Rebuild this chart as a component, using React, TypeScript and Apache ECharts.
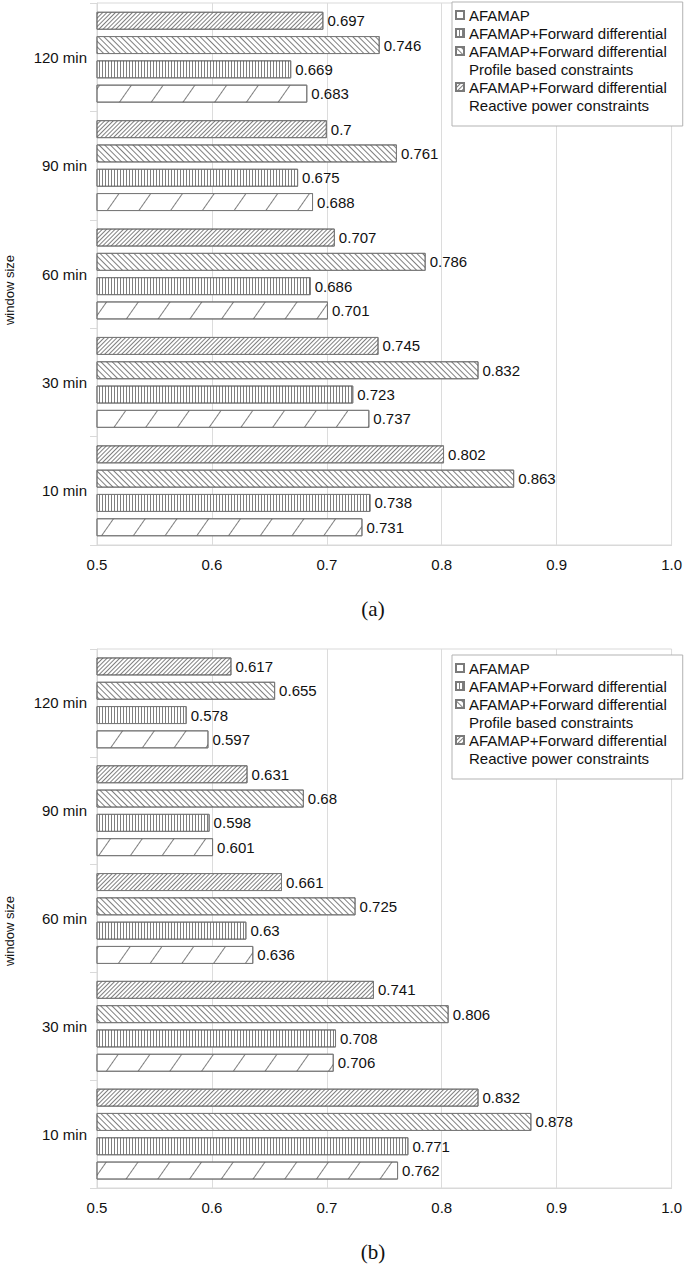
import React, { useEffect, useRef } from 'react';
import * as echarts from 'echarts';

const categories = ['10 min', '30 min', '60 min', '90 min', '120 min'];
const seriesNames = [
  'AFAMAP',
  'AFAMAP+Forward differential',
  'AFAMAP+Forward differential Profile based constraints',
  'AFAMAP+Forward differential Reactive power constraints',
];
const legendFirstLines = [
  'AFAMAP',
  'AFAMAP+Forward differential',
  'AFAMAP+Forward differential',
  'AFAMAP+Forward differential',
];
const legendSecondLines = ['', '', 'Profile based constraints', 'Reactive power constraints'];

// Chart (a)
const afamapA = [0.731, 0.737, 0.701, 0.688, 0.683];
const fwdA = [0.738, 0.723, 0.686, 0.675, 0.669];
const profileA = [0.863, 0.832, 0.786, 0.761, 0.746];
const reactiveA = [0.802, 0.745, 0.707, 0.7, 0.697];

// Chart (b)
const afamapB = [0.762, 0.706, 0.636, 0.601, 0.597];
const fwdB = [0.771, 0.708, 0.63, 0.598, 0.578];
const profileB = [0.878, 0.806, 0.725, 0.68, 0.655];
const reactiveB = [0.832, 0.741, 0.661, 0.631, 0.617];

const xMin = 0.5;
const xMax = 1.0;
const xInterval = 0.1;

const FONT = '"Liberation Sans", Arial, sans-serif';
const DC = 'rgba(0,0,0,0.5)';

const decals: any[] = [
  { symbol: 'rect', symbolSize: 1, color: DC, dashArrayX: [1, 0], dashArrayY: [1, 25], rotation: (-55 * Math.PI) / 180 },
  { symbol: 'rect', symbolSize: 1, color: DC, dashArrayX: [1, 2], dashArrayY: [1, 0], rotation: 0 },
  { symbol: 'rect', symbolSize: 1, color: DC, dashArrayX: [1, 0], dashArrayY: [1, 3], rotation: Math.PI / 4 },
  { symbol: 'rect', symbolSize: 1, color: DC, dashArrayX: [1, 0], dashArrayY: [1, 2], rotation: -Math.PI / 4 },
];

type ChartProps = {
  values: number[][];
  caption: string;
  gridTop: number;
  gridHeight: number;
  legendTop: number;
  captionY: number;
  nameY: number;
};

function BarChart({ values, caption, gridTop, gridHeight, legendTop, captionY, nameY }: ChartProps) {
  const ref = useRef<HTMLDivElement>(null);
  useEffect(() => {
    if (!ref.current) return;
    const chart = echarts.init(ref.current, null, { renderer: 'svg' });
    const barSeries = seriesNames.map((name, i) => ({
      name,
      type: 'bar',
      data: values[i],
      barWidth: 18,
      barGap: '35%',
      itemStyle: { color: '#ffffff', borderColor: '#7a7a7a', borderWidth: 1, decal: decals[i] },
      label: {
        show: true,
        position: 'right',
        distance: 4,
        fontSize: 15,
        fontFamily: FONT,
        color: '#111',
      },
    }));
    // ECharts stacks horizontal bars top-down in series order; reverse so AFAMAP sits at the bottom
    const orderedBars = barSeries.slice().reverse();
    const dummySeries = legendSecondLines
      .filter((s) => s)
      .map((name) => ({
        name,
        type: 'line',
        data: [],
        itemStyle: { color: 'rgba(0,0,0,0)' },
        lineStyle: { color: 'rgba(0,0,0,0)' },
      }));
    const legendData: any[] = [];
    seriesNames.forEach((name, i) => {
      legendData.push({ name });
      if (legendSecondLines[i]) {
        legendData.push({
          name: legendSecondLines[i],
          itemStyle: { color: 'rgba(0,0,0,0)', borderWidth: 0, borderColor: 'rgba(0,0,0,0)', decal: 'none' },
        });
      }
    });
    chart.setOption({
      animation: false,
      textStyle: { fontFamily: FONT },
      grid: {
        left: 97,
        right: 13,
        top: gridTop,
        height: gridHeight,
        show: true,
        borderColor: '#d9d9d9',
        borderWidth: 1,
      },
      legend: {
        data: legendData,
        orient: 'vertical',
        left: 452,
        top: legendTop,
        icon: 'rect',
        itemWidth: 8,
        itemHeight: 8,
        itemGap: 0,
        selectedMode: false,
        padding: [4, 16, 12, 3],
        borderColor: '#b3b3b3',
        borderWidth: 1,
        backgroundColor: '#fff',
        textStyle: { fontSize: 15, fontFamily: FONT, color: '#111', lineHeight: 18 },
        formatter: (name: string) => {
          const idx = seriesNames.indexOf(name);
          return idx >= 0 ? legendFirstLines[idx] : name;
        },
      },
      xAxis: {
        type: 'value',
        min: xMin,
        max: xMax,
        interval: xInterval,
        axisLine: { show: true, lineStyle: { color: '#d9d9d9' } },
        axisTick: { show: false },
        splitLine: { show: true, lineStyle: { color: '#dcdcdc' } },
        axisLabel: {
          fontSize: 15,
          fontFamily: FONT,
          color: '#111',
          margin: 12,
          formatter: (v: number) => v.toFixed(1),
        },
      },
      yAxis: {
        type: 'category',
        data: categories,
        axisLine: { show: true, lineStyle: { color: '#d9d9d9' } },
        axisTick: { show: true, length: 7, lineStyle: { color: '#d9d9d9' } },
        axisLabel: { fontSize: 15, fontFamily: FONT, color: '#111', margin: 10 },
      },
      graphic: [
        {
          type: 'text',
          x: 9,
          y: nameY,
          rotation: Math.PI / 2,
          style: {
            text: 'window size',
            fontSize: 13,
            fontFamily: FONT,
            fill: '#111',
            align: 'center',
            verticalAlign: 'middle',
          },
        },
        {
          type: 'text',
          x: 373,
          y: captionY,
          style: {
            text: caption,
            fontSize: 21,
            fontFamily: '"Liberation Serif", "Times New Roman", serif',
            fill: '#111',
            align: 'center',
            verticalAlign: 'middle',
          },
        },
      ],
      series: [...orderedBars, ...dummySeries],
    });
    return () => chart.dispose();
  }, []);
  return <div ref={ref} style={{ width: 685, height: 633 }} />;
}

export default function App() {
  useEffect(() => {
    document.body.style.margin = '0';
  }, []);
  return (
    <div style={{ width: 685, height: 1266, background: '#fff' }}>
      <BarChart
        values={[afamapA, fwdA, profileA, reactiveA]}
        caption="(a)"
        gridTop={3}
        gridHeight={542}
        legendTop={2}
        captionY={609}
        nameY={290}
      />
      <BarChart
        values={[afamapB, fwdB, profileB, reactiveB]}
        caption="(b)"
        gridTop={16}
        gridHeight={539}
        legendTop={22}
        captionY={619}
        nameY={298}
      />
    </div>
  );
}
